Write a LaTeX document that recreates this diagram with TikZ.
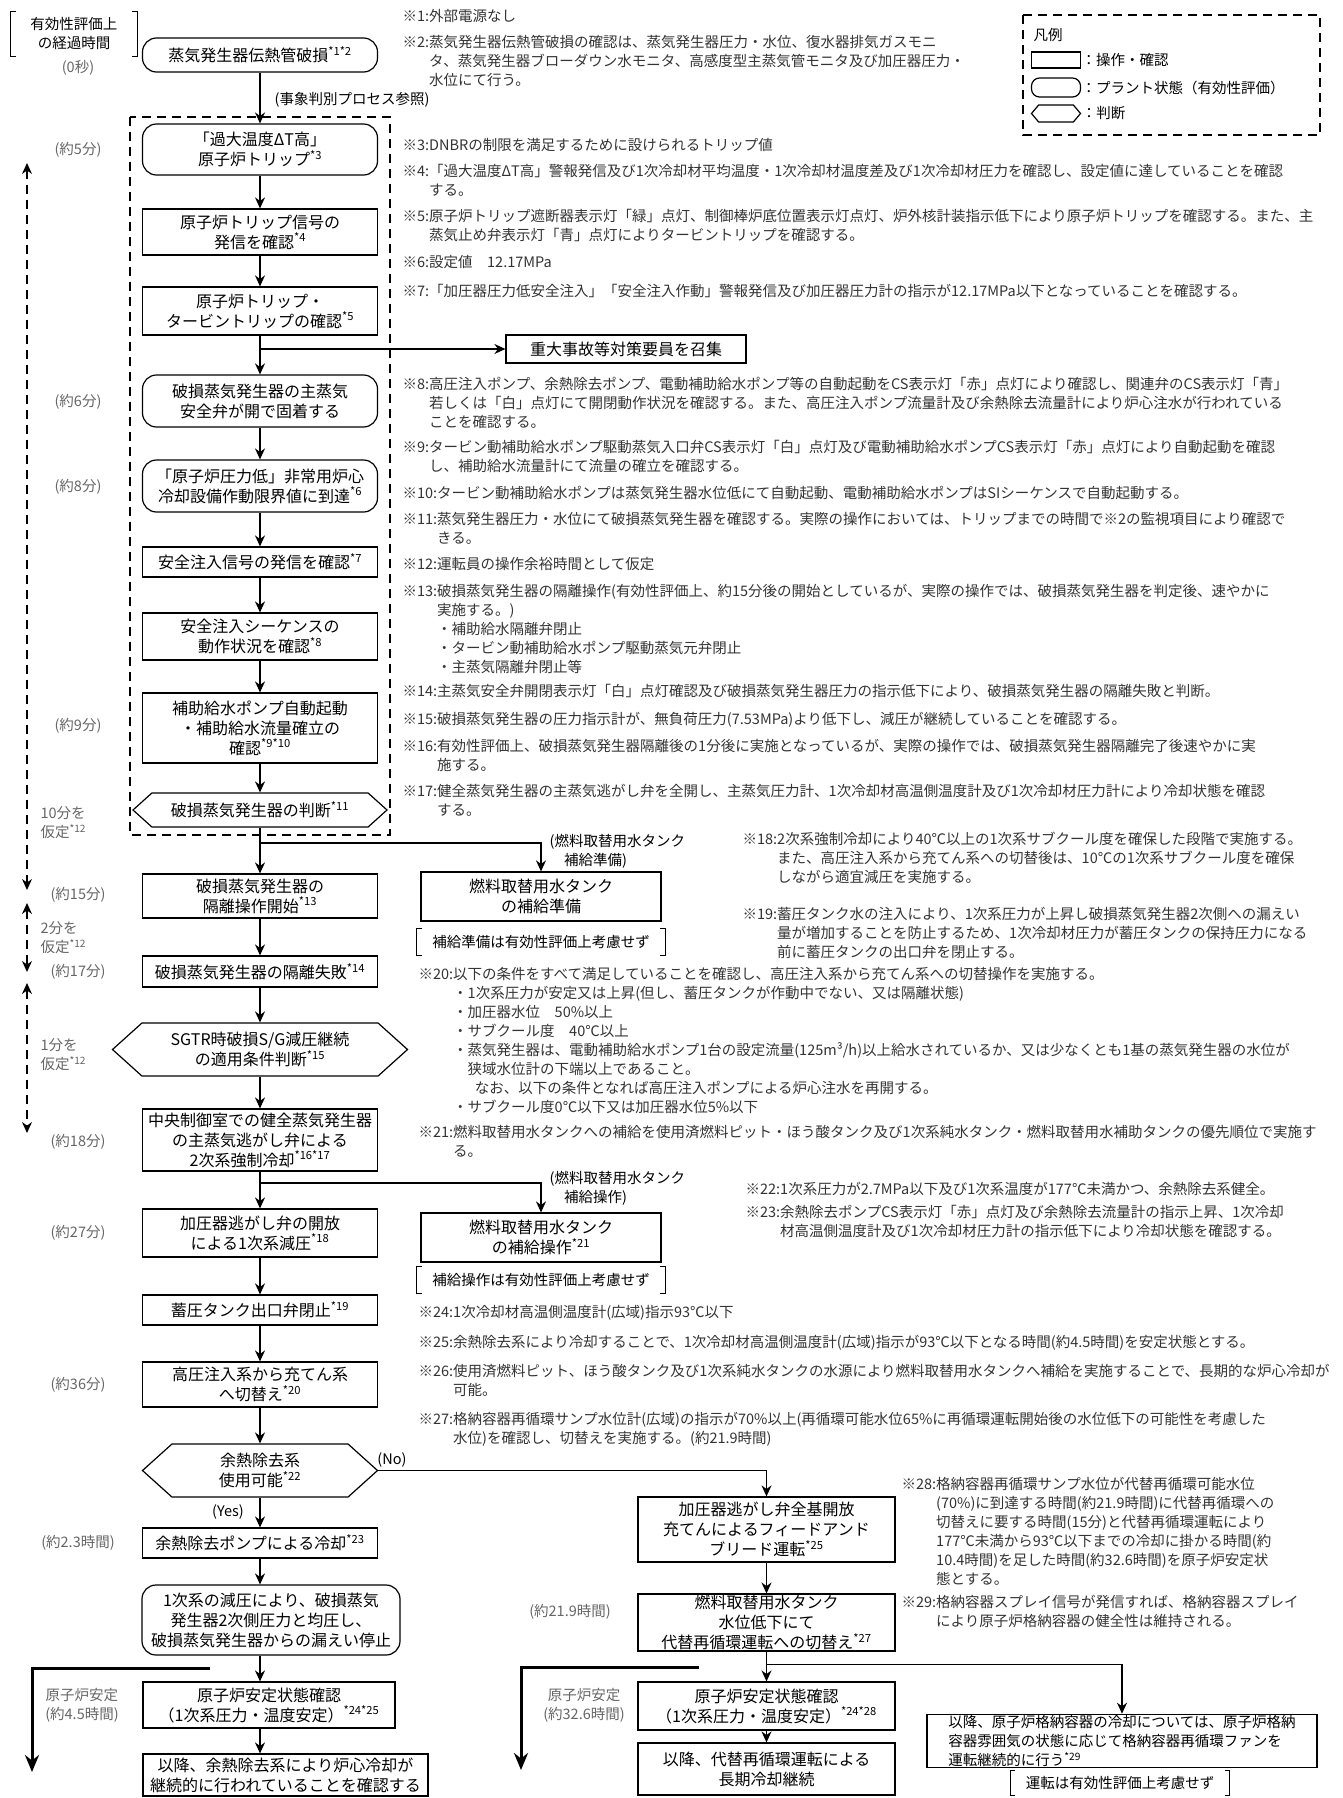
\documentclass[tikz,border=0pt]{standalone}
\usepackage{fontspec}
\setmainfont{Noto Sans CJK JP}
\usetikzlibrary{arrows.meta,shapes.symbols,calc}
\newcommand{\bxfont}{\fontsize{16}{20}\selectfont}
\newcommand{\ntfont}{\fontsize{14.5}{19}\selectfont}
\newcommand{\nref}[1]{\textsuperscript{#1}}
\newcommand{\chu}[2]{\begin{tabular}{@{}l@{}l@{}}※#1:&#2\end{tabular}}
\tikzset{
  >={Stealth[length=11pt,width=10pt]},
  every picture/.style={line width=1.2pt},
  op/.style={draw,align=center,font=\bxfont,minimum width=235pt,inner sep=1pt},
  st/.style={op,rounded corners=14pt},
  jd/.style={op,signal,signal to=east and west,signal pointer angle=84},
  arr/.style={->},
  tm/.style={font=\ntfont,text=black!60,align=left,inner sep=0pt},
  nt/.style={anchor=north west,inner sep=0pt,font=\ntfont,text=black!80},
  lb/.style={font=\ntfont,align=center,inner sep=0pt},
  brk/.style={line width=1pt},
  dsh/.style={dash pattern=on 9pt off 6pt,line width=1.3pt},
  big/.style={-{Stealth[length=17pt,width=14pt]},line width=3pt},
}
\begin{document}
\begin{tikzpicture}[x=1pt,y=-1pt]
  \useasboundingbox (0,0) rectangle (1343,1798);
  % main column
  \node[st,minimum height=34pt] (b1) at (260,55) {蒸気発生器伝熱管破損\nref{*1*2}};
  \node[st,minimum height=51pt] (b2) at (260,149.5) {「過大温度ΔT高」\\原子炉トリップ\nref{*3}};
  \node[op,minimum height=46pt] (b3) at (260,232) {原子炉トリップ信号の\\発信を確認\nref{*4}};
  \node[op,minimum height=48pt] (b4) at (260,311) {原子炉トリップ・\\タービントリップの確認\nref{*5}};
  \node[st,minimum height=52pt] (b5) at (260,401) {破損蒸気発生器の主蒸気\\安全弁が開で固着する};
  \node[st,minimum height=52pt] (b6) at (260,486) {「原子炉圧力低」非常用炉心\\冷却設備作動限界値に到達\nref{*6}};
  \node[op,minimum height=30pt] (b7) at (260,562) {安全注入信号の発信を確認\nref{*7}};
  \node[op,minimum height=47pt] (b8) at (260,636.5) {安全注入シーケンスの\\動作状況を確認\nref{*8}};
  \node[op,minimum height=70pt] (b9) at (260,728) {補助給水ポンプ自動起動\\・補助給水流量確立の\\確認\nref{*9*10}};
  \node[jd,minimum width=254pt,minimum height=34pt] (h1) at (260,810) {破損蒸気発生器の判断\nref{*11}};
  \node[op,minimum height=44pt] (b10) at (260,896) {破損蒸気発生器の\\隔離操作開始\nref{*13}};
  \node[op,minimum height=31pt] (b11) at (260,971.5) {破損蒸気発生器の隔離失敗\nref{*14}};
  \node[jd,minimum width=295pt,minimum height=53pt] (h2) at (260,1049.5) {SGTR時破損S/G減圧継続\\の適用条件判断\nref{*15}};
  \node[op,minimum height=62pt] (b12) at (260,1140) {中央制御室での健全蒸気発生器\\の主蒸気逃がし弁による\\2次系強制冷却\nref{*16*17}};
  \node[op,minimum height=48pt] (b13) at (260,1233) {加圧器逃がし弁の開放\\による1次系減圧\nref{*18}};
  \node[op,minimum height=30pt] (b14) at (260,1310) {蓄圧タンク出口弁閉止\nref{*19}};
  \node[op,minimum height=45pt] (b15) at (260,1384.5) {高圧注入系から充てん系\\へ切替え\nref{*20}};
  \node[jd,minimum height=53pt] (h3) at (260,1470.5) {余熱除去系\\使用可能\nref{*22}};
  \node[op,minimum height=30pt] (b16) at (260,1543) {余熱除去ポンプによる冷却\nref{*23}};
  \node[st,minimum width=258pt,minimum height=70pt] (b17) at (271,1620) {1次系の減圧により、破損蒸気\\発生器2次側圧力と均圧し、\\破損蒸気発生器からの漏えい停止};
  \node[op,minimum width=252pt,minimum height=46pt] (b18) at (269,1705) {原子炉安定状態確認\\（1次系圧力・温度安定）\nref{*24*25}};
  \node[op,minimum width=285pt,minimum height=42pt] (b19) at (285.5,1775) {以降、余熱除去系により炉心冷却が\\継続的に行われていることを確認する};
  \foreach \a/\b in {b1/b2,b2/b3,b3/b4,b4/b5,b5/b6,b6/b7,b7/b8,b8/b9,b9/h1,h1/b10,b10/b11,b11/h2,h2/b12,b12/b13,b13/b14,b14/b15,b15/h3,h3/b16,b16/b17}
    \draw[arr] (\a.south) -- (\a.south |- \b.north);
  \draw[arr] (b17.south -| b16.south) -- (b18.north -| b16.south);
  \draw[arr] (b18.south -| b16.south) -- (b19.north -| b16.south);
  \node[lb] (ev) at (352,100) {(事象判別プロセス参照)};
  \draw[dsh] (130,117) rectangle (390,835);
  % side branches
  \node[op,minimum width=240pt,minimum height=28pt] (c1) at (626,349) {重大事故等対策要員を召集};
  \draw[arr] (b4.south |- c1.west) -- (c1.west);
  \node[op,minimum width=240pt,minimum height=49pt] (c2) at (541,896.5) {燃料取替用水タンク\\の補給準備};
  \coordinate (j1) at (260,843);
  \draw[arr] (j1) -| (c2.north);
  \node[lb,align=left,anchor=west] (l1) at (549,851) {(燃料取替用水タンク\\\hspace*{1em}補給準備)};
  \node[lb,inner xsep=15pt,minimum height=26pt] (k1) at (541,942) {補給準備は有効性評価上考慮せず};
  \node[op,minimum width=240pt,minimum height=49pt] (c3) at (541,1237.5) {燃料取替用水タンク\\の補給操作\nref{*21}};
  \coordinate (j2) at (260,1183);
  \draw[arr] (j2) -| (c3.north);
  \node[lb,align=left,anchor=west] (l2) at (549,1188) {(燃料取替用水タンク\\\hspace*{1em}補給操作)};
  \node[lb,inner xsep=15pt,minimum height=26pt] (k2) at (541,1280) {補給操作は有効性評価上考慮せず};
  % no branch
  \node[lb] (yes) at (228,1512) {(Yes)};
  \node[lb] (no) at (392,1460) {(No)};
  \node[op,minimum width=257pt,minimum height=65pt] (f1) at (766.5,1529.5) {加圧器逃がし弁全基開放\\充てんによるフィードアンド\\ブリード運転\nref{*25}};
  \node[op,minimum width=257pt,minimum height=49pt] (f2) at (766.5,1622.5) {燃料取替用水タンク\\水位低下にて\\代替再循環運転への切替え\nref{*27}};
  \node[op,minimum width=257pt,minimum height=48pt] (f3) at (766.5,1706) {原子炉安定状態確認\\（1次系圧力・温度安定）\nref{*24*28}};
  \node[op,minimum width=257pt,minimum height=52pt] (f4) at (766.5,1769) {以降、代替再循環運転による\\長期冷却継続};
  \node[op,minimum width=390pt,minimum height=52pt,align=left,font=\ntfont] (f5) at (1122,1741) {以降、原子炉格納容器の冷却については、原子炉格納\\容器雰囲気の状態に応じて格納容器再循環ファンを\\運転継続的に行う\nref{*29}};
  \node[lb,inner xsep=15pt,minimum height=23pt] (k3) at (1120,1783) {運転は有効性評価上考慮せず};
  \draw[arr] (h3.east) -| (f1.north);
  \foreach \a/\b in {f1/f2,f2/f3,f3/f4} \draw[arr] (\a) -- (\b);
  \coordinate (j4) at ([yshift=-13pt]f2.south);
  \draw[arr] (j4) -| (f5.north);
  % stable state arrows
  \coordinate (s1) at (210,1668); \coordinate (e1) at (32,1772);
  \coordinate (s2) at (699,1667); \coordinate (e2) at (521,1770);
  \draw[big] (s1) -| (e1);
  \draw[big] (s2) -| (e2);
  % brackets
  \node[lb,inner xsep=19pt,minimum height=43pt] (k0) at (74,34) {有効性評価上\\の経過時間};
  \foreach \k in {k0,k1,k2,k3} {
    \draw[brk] ([xshift=5pt]\k.north west) -- (\k.north west) -- (\k.south west) -- ([xshift=5pt]\k.south west);
    \draw[brk] ([xshift=-5pt]\k.north east) -- (\k.north east) -- (\k.south east) -- ([xshift=-5pt]\k.south east);
  }
  % elapsed times
  \foreach \y/\t in {68/{(0秒)},150/{(約5分)},402/{(約6分)},487/{(約8分)},726/{(約9分)},895/{(約15分)},972/{(約17分)},1142/{(約18分)},1233/{(約27分)},1385/{(約36分)},1543/{(約2.3時間)}}
    \node[tm] (tm\y) at (78,\y) {\t};
  \node[tm,anchor=west] (tp1) at (40,823) {10分を\\仮定\nref{*12}};
  \node[tm,anchor=west] (tp2) at (40,938) {2分を\\仮定\nref{*12}};
  \node[tm,anchor=west] (tp3) at (40,1055) {1分を\\仮定\nref{*12}};
  \node[tm,align=center] (tr1) at (82,1705) {原子炉安定\\(約4.5時間)};
  \node[tm] (tr2) at (570,1612) {(約21.9時間)};
  \node[tm,align=center] (tr3) at (584,1705) {原子炉安定\\(約32.6時間)};
  \coordinate (t1) at (27,163); \coordinate (t2) at (27,890);
  \coordinate (t3) at (27,903); \coordinate (t4) at (27,972);
  \coordinate (t5) at (27,983); \coordinate (t6) at (27,1133);
  \foreach \a/\b in {t1/t2,t3/t4,t5/t6} \draw[dsh,<->] (\a) -- (\b);
  % legend
  \draw[dsh] (1023,15) rectangle (1320,135);
  \node[lb,anchor=west] (lg) at (1033,35) {凡例};
  \node[draw,minimum width=49pt,minimum height=16pt,inner sep=0pt] (lg1) at (1056,60) {};
  \node[draw,minimum width=49pt,minimum height=19pt,inner sep=0pt,rounded corners=8pt] (lg2) at (1056,87.5) {};
  \node[draw,signal,signal to=east and west,signal pointer angle=100,minimum width=49pt,minimum height=17pt,inner sep=0pt] (lg3) at (1056,113.5) {};
  \node[lb,anchor=west] (lt1) at (lg1.east) {：操作・確認};
  \node[lb,anchor=west] (lt2) at (lg2.east) {：プラント状態（有効性評価）};
  \node[lb,anchor=west] (lt3) at (lg3.east) {：判断};
  % notes
  \node[nt] (n1) at (402,7.5) {\chu{1}{外部電源なし}};
  \node[nt] (n2) at (402,33.5) {\chu{2}{蒸気発生器伝熱管破損の確認は、蒸気発生器圧力・水位、復水器排気ガスモニ\\&タ、蒸気発生器ブローダウン水モニタ、高感度型主蒸気管モニタ及び加圧器圧力・\\&水位にて行う。}};
  \node[nt] (n3) at (402,136.5) {\chu{3}{DNBRの制限を満足するために設けられるトリップ値}};
  \node[nt] (n4) at (402,162.5) {\chu{4}{「過大温度ΔT高」警報発信及び1次冷却材平均温度・1次冷却材温度差及び1次冷却材圧力を確認し、設定値に達していることを確認\\&する。}};
  \node[nt] (n5) at (402,207.5) {\chu{5}{原子炉トリップ遮断器表示灯「緑」点灯、制御棒炉底位置表示灯点灯、炉外核計装指示低下により原子炉トリップを確認する。また、主\\&蒸気止め弁表示灯「青」点灯によりタービントリップを確認する。}};
  \node[nt] (n6) at (402,253.5) {\chu{6}{設定値　12.17MPa}};
  \node[nt] (n7) at (402,282.5) {\chu{7}{「加圧器圧力低安全注入」「安全注入作動」警報発信及び加圧器圧力計の指示が12.17MPa以下となっていることを確認する。}};
  \node[nt] (n8) at (402,375.5) {\chu{8}{高圧注入ポンプ、余熱除去ポンプ、電動補助給水ポンプ等の自動起動をCS表示灯「赤」点灯により確認し、関連弁のCS表示灯「青」\\&若しくは「白」点灯にて開閉動作状況を確認する。また、高圧注入ポンプ流量計及び余熱除去流量計により炉心注水が行われている\\&ことを確認する。}};
  \node[nt] (n9) at (402,438.5) {\chu{9}{タービン動補助給水ポンプ駆動蒸気入口弁CS表示灯「白」点灯及び電動補助給水ポンプCS表示灯「赤」点灯により自動起動を確認\\&し、補助給水流量計にて流量の確立を確認する。}};
  \node[nt] (n10) at (402,484.5) {\chu{10}{タービン動補助給水ポンプは蒸気発生器水位低にて自動起動、電動補助給水ポンプはSIシーケンスで自動起動する。}};
  \node[nt] (n11) at (402,510.5) {\chu{11}{蒸気発生器圧力・水位にて破損蒸気発生器を確認する。実際の操作においては、トリップまでの時間で※2の監視項目により確認で\\&きる。}};
  \node[nt] (n12) at (402,555.5) {\chu{12}{運転員の操作余裕時間として仮定}};
  \node[nt] (n13) at (402,582.5) {\chu{13}{破損蒸気発生器の隔離操作(有効性評価上、約15分後の開始としているが、実際の操作では、破損蒸気発生器を判定後、速やかに\\&実施する。)\\&・補助給水隔離弁閉止\\&・タービン動補助給水ポンプ駆動蒸気元弁閉止\\&・主蒸気隔離弁閉止等}};
  \node[nt] (n14) at (402,682.5) {\chu{14}{主蒸気安全弁開閉表示灯「白」点灯確認及び破損蒸気発生器圧力の指示低下により、破損蒸気発生器の隔離失敗と判断。}};
  \node[nt] (n15) at (402,710.5) {\chu{15}{破損蒸気発生器の圧力指示計が、無負荷圧力(7.53MPa)より低下し、減圧が継続していることを確認する。}};
  \node[nt] (n16) at (402,737.5) {\chu{16}{有効性評価上、破損蒸気発生器隔離後の1分後に実施となっているが、実際の操作では、破損蒸気発生器隔離完了後速やかに実\\&施する。}};
  \node[nt] (n17) at (402,782.5) {\chu{17}{健全蒸気発生器の主蒸気逃がし弁を全開し、主蒸気圧力計、1次冷却材高温側温度計及び1次冷却材圧力計により冷却状態を確認\\&する。}};
  \node[nt] (n18) at (742,830.5) {\chu{18}{2次系強制冷却により40℃以上の1次系サブクール度を確保した段階で実施する。\\&また、高圧注入系から充てん系への切替後は、10℃の1次系サブクール度を確保\\&しながら適宜減圧を実施する。}};
  \node[nt] (n19) at (742,905.5) {\chu{19}{蓄圧タンク水の注入により、1次系圧力が上昇し破損蒸気発生器2次側への漏えい\\&量が増加することを防止するため、1次冷却材圧力が蓄圧タンクの保持圧力になる\\&前に蓄圧タンクの出口弁を閉止する。}};
  \node[nt] (n20) at (418,965.5) {\chu{20}{以下の条件をすべて満足していることを確認し、高圧注入系から充てん系への切替操作を実施する。\\&・1次系圧力が安定又は上昇(但し、蓄圧タンクが作動中でない、又は隔離状態)\\&・加圧器水位　50\%以上\\&・サブクール度　40℃以上\\&・蒸気発生器は、電動補助給水ポンプ1台の設定流量(125m³/h)以上給水されているか、又は少なくとも1基の蒸気発生器の水位が\\&\hspace*{1em}狭域水位計の下端以上であること。\\&\hspace*{1.5em}なお、以下の条件となれば高圧注入ポンプによる炉心注水を再開する。\\&・サブクール度0℃以下又は加圧器水位5\%以下}};
  \node[nt] (n21) at (418,1123.5) {\chu{21}{燃料取替用水タンクへの補給を使用済燃料ピット・ほう酸タンク及び1次系純水タンク・燃料取替用水補助タンクの優先順位で実施す\\&る。}};
  \node[nt] (n22) at (745,1180.5) {\chu{22}{1次系圧力が2.7MPa以下及び1次系温度が177℃未満かつ、余熱除去系健全。}};
  \node[nt] (n23) at (745,1203.5) {\chu{23}{余熱除去ポンプCS表示灯「赤」点灯及び余熱除去流量計の指示上昇、1次冷却\\&材高温側温度計及び1次冷却材圧力計の指示低下により冷却状態を確認する。}};
  \node[nt] (n24) at (418,1303.5) {\chu{24}{1次冷却材高温側温度計(広域)指示93℃以下}};
  \node[nt] (n25) at (418,1333.5) {\chu{25}{余熱除去系により冷却することで、1次冷却材高温側温度計(広域)指示が93℃以下となる時間(約4.5時間)を安定状態とする。}};
  \node[nt] (n26) at (418,1362.5) {\chu{26}{使用済燃料ピット、ほう酸タンク及び1次系純水タンクの水源により燃料取替用水タンクへ補給を実施することで、長期的な炉心冷却が\\&可能。}};
  \node[nt] (n27) at (418,1410.5) {\chu{27}{格納容器再循環サンプ水位計(広域)の指示が70\%以上(再循環可能水位65\%に再循環運転開始後の水位低下の可能性を考慮した\\&水位)を確認し、切替えを実施する。(約21.9時間)}};
  \node[nt] (n28) at (901,1475.5) {\chu{28}{格納容器再循環サンプ水位が代替再循環可能水位\\&(70\%)に到達する時間(約21.9時間)に代替再循環への\\&切替えに要する時間(15分)と代替再循環運転により\\&177℃未満から93℃以下までの冷却に掛かる時間(約\\&10.4時間)を足した時間(約32.6時間)を原子炉安定状\\&態とする。}};
  \node[nt] (n29) at (901,1593.5) {\chu{29}{格納容器スプレイ信号が発信すれば、格納容器スプレイ\\&により原子炉格納容器の健全性は維持される。}};
\end{tikzpicture}
\end{document}
